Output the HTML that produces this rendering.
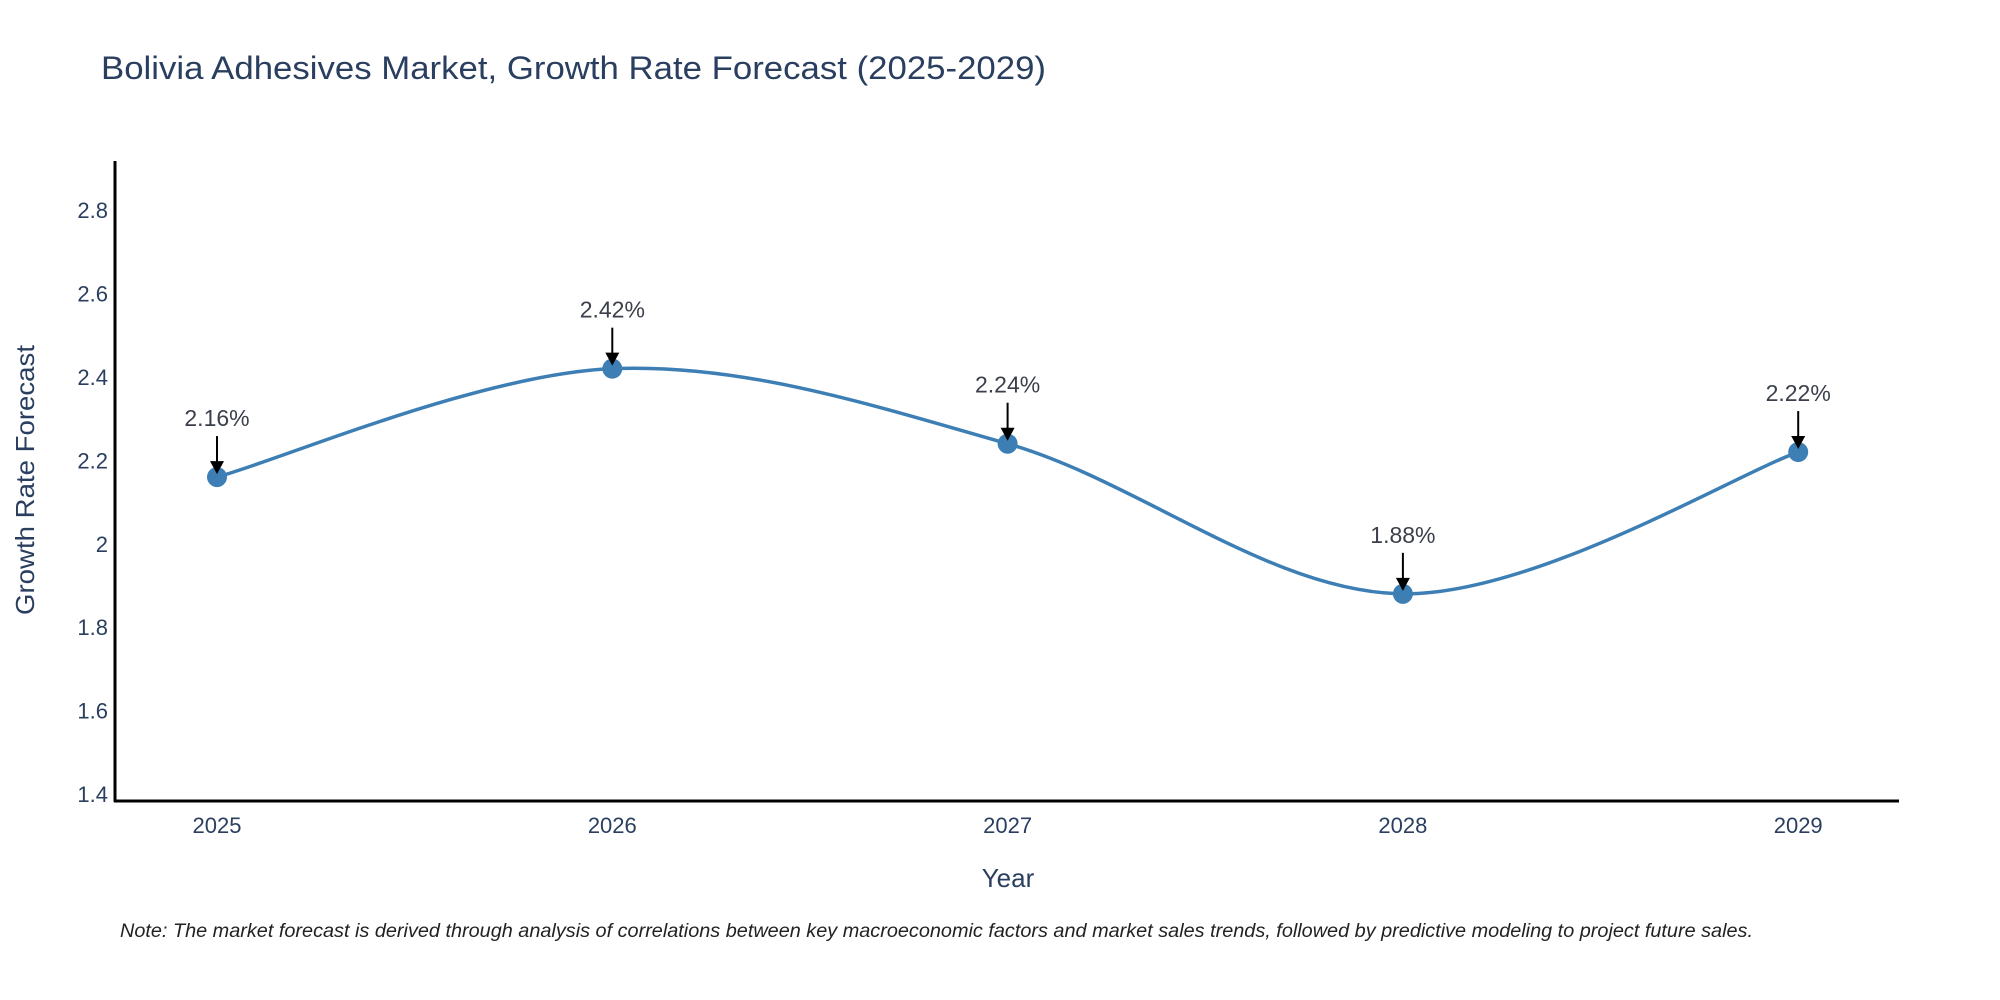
<!DOCTYPE html>
<html><head><meta charset="utf-8">
<style>
html,body{margin:0;padding:0;background:#fff;}
svg{display:block;font-family:"Liberation Sans","DejaVu Sans",sans-serif;}
</style></head>
<body>
<svg id="chart" width="2000" height="1000" viewBox="0 0 2000 1000" xmlns="http://www.w3.org/2000/svg">
<rect width="2000" height="1000" fill="#fff"/>
<text x="101" y="79" font-size="32" fill="#2a3f5f" textLength="945" lengthAdjust="spacingAndGlyphs">Bolivia Adhesives Market, Growth Rate Forecast (2025-2029)</text>
<g id="yticks"></g>
<g id="xticks"></g>
<line x1="115" y1="161" x2="115" y2="802" stroke="#000" stroke-width="3"/>
<line x1="114" y1="801" x2="1899" y2="801" stroke="#000" stroke-width="3"/>
<text transform="translate(34,480) rotate(-90)" text-anchor="middle" font-size="26" fill="#2a3f5f" textLength="270" lengthAdjust="spacingAndGlyphs">Growth Rate Forecast</text>
<text x="1008" y="887" text-anchor="middle" font-size="26" fill="#2a3f5f">Year</text>
<g id="series"></g>
<g id="annots"></g>
<text x="120" y="937" font-size="19" font-style="italic" fill="#222" textLength="1633" lengthAdjust="spacingAndGlyphs">Note: The market forecast is derived through analysis of correlations between key macroeconomic factors and market sales trends, followed by predictive modeling to project future sales.</text>
</svg>
<script>
const years = [2025, 2026, 2027, 2028, 2029];
const growth = [2.16, 2.42, 2.24, 1.88, 2.22];
const yTickValues = [1.4, 1.6, 1.8, 2, 2.2, 2.4, 2.6, 2.8];
const yTickLabels = ["1.4", "1.6", "1.8", "2", "2.2", "2.4", "2.6", "2.8"];

const NS = "http://www.w3.org/2000/svg";
function xScale(yr){ return 217 + (yr - 2025) * 395.3; }
function yScale(v){ return 794 - (v - 1.4) * 417; }
function mk(tag, attrs, parent){
  const e = document.createElementNS(NS, tag);
  for (const k in attrs) e.setAttribute(k, attrs[k]);
  parent.appendChild(e); return e;
}
const yt = document.getElementById('yticks');
yTickValues.forEach((v, i) => {
  const t = mk('text', {x: 108, y: yScale(v) + 8, 'text-anchor': 'end', 'font-size': 22, fill: '#2a3f5f'}, yt);
  
  
  t.textContent = yTickLabels[i];
});
const xt = document.getElementById('xticks');
years.forEach(yr => {
  const t = mk('text', {x: xScale(yr), y: 833, 'text-anchor': 'middle', 'font-size': 22, fill: '#2a3f5f'}, xt);
  
  
  t.textContent = String(yr);
});
const pts = years.map((yr, i) => [xScale(yr), yScale(growth[i])]);
let d = `M${pts[0][0]},${pts[0][1]}`;
const tension = 0.5;
for (let i = 0; i < pts.length - 1; i++) {
  const p0 = pts[i - 1] || pts[i], p1 = pts[i], p2 = pts[i + 1], p3 = pts[i + 2] || pts[i + 1];
  const c1 = [p1[0] + (p2[0] - p0[0]) * tension / 3, p1[1] + (p2[1] - p0[1]) * tension / 3];
  const c2 = [p2[0] - (p3[0] - p1[0]) * tension / 3, p2[1] - (p3[1] - p1[1]) * tension / 3];
  d += ` C${c1[0]},${c1[1]} ${c2[0]},${c2[1]} ${p2[0]},${p2[1]}`;
}
const s = document.getElementById('series');
const line = mk('path', {d: d, fill: 'none', stroke: '#3d7fb5', 'stroke-width': 3.5}, s);


pts.forEach(p => {
  const c = mk('circle', {cx: p[0], cy: p[1], r: 10, fill: '#3d7fb5'}, s);
  
  
});
const an = document.getElementById('annots');
pts.forEach((p, i) => {
  const l = mk('line', {x1: p[0], y1: p[1] - 41, x2: p[0], y2: p[1] - 14, stroke: '#000', 'stroke-width': 2}, an);
  
  
  const h = mk('polygon', {points: `${p[0]-7},${p[1]-16} ${p[0]+7},${p[1]-16} ${p[0]},${p[1]-3}`, fill: '#000'}, an);
  
  
  const t = mk('text', {x: p[0], y: p[1] - 51, 'text-anchor': 'middle', 'font-size': 23, fill: '#3a3f4a'}, an);
  
  
  t.textContent = growth[i].toFixed(2) + '%';
});
</script>
</body></html>
